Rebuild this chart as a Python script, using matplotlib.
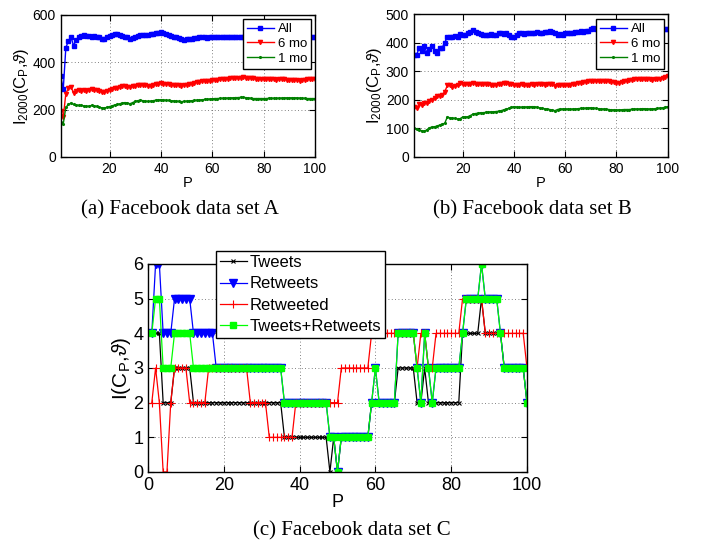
import matplotlib
matplotlib.use("Agg")
import matplotlib.pyplot as plt
import numpy as np

plt.rcParams['font.family'] = ['Liberation Sans', 'DejaVu Sans']
plt.rcParams['mathtext.fontset'] = 'custom'
plt.rcParams['mathtext.rm'] = 'Liberation Sans'
plt.rcParams['mathtext.it'] = 'Liberation Sans:italic'

# ---- data set A ----
p_ab = list(range(1, 101))
a_all = [342, 287, 462, 490, 507, 470, 495, 505, 512, 515,
         512, 510, 508, 510, 507, 505, 498, 500, 505, 510,
         515, 520, 518, 515, 512, 508, 505, 498, 502, 508,
         512, 514, 515, 515, 516, 518, 520, 522, 526, 528,
         525, 520, 515, 512, 508, 505, 502, 498, 496, 497,
         498, 500, 502, 504, 506, 505, 505, 504, 505, 506,
         507, 507, 506, 507, 508, 507, 508, 508, 507, 508,
         509, 508, 508, 507, 508, 509, 508, 507, 508, 508,
         507, 508, 509, 508, 508, 507, 508, 508, 509, 508,
         508, 507, 508, 508, 507, 508, 508, 507, 508, 507]
a_6mo = [195, 168, 268, 290, 295, 272, 280, 282, 280, 283,
         280, 282, 288, 285, 282, 278, 275, 276, 280, 282,
         286, 290, 292, 295, 298, 300, 297, 294, 298, 302,
         305, 306, 305, 303, 302, 300, 304, 308, 310, 312,
         310, 308, 307, 306, 305, 304, 303, 302, 304, 306,
         308, 310, 314, 316, 318, 320, 321, 322, 323, 325,
         326, 327, 328, 329, 330, 331, 332, 333, 334, 335,
         335, 336, 335, 334, 333, 332, 331, 330, 330, 330,
         329, 329, 328, 328, 327, 328, 329, 328, 327, 326,
         327, 326, 325, 322, 326, 327, 328, 329, 329, 330]
a_1mo = [150, 140, 210, 222, 228, 222, 220, 218, 218, 216,
         214, 215, 218, 216, 214, 210, 208, 207, 210, 213,
         216, 220, 222, 225, 228, 230, 228, 225, 230, 235,
         238, 240, 238, 236, 235, 236, 238, 240, 241, 242,
         241, 240, 239, 238, 237, 236, 235, 234, 235, 236,
         237, 238, 239, 240, 241, 242, 243, 244, 245, 246,
         247, 247, 248, 248, 249, 249, 250, 250, 251, 251,
         252, 252, 251, 250, 248, 247, 247, 247, 247, 247,
         247, 248, 248, 248, 248, 249, 249, 250, 250, 250,
         250, 250, 250, 249, 248, 248, 247, 247, 247, 247]

# ---- data set B ----
b_all = [358, 356, 382, 370, 387, 365, 378, 388, 372, 365,
         380, 382, 400, 420, 418, 420, 422, 420, 430, 428,
         428, 432, 436, 444, 438, 432, 430, 427, 425, 428,
         430, 426, 428, 432, 432, 430, 433, 428, 420, 418,
         428, 432, 432, 430, 432, 434, 435, 432, 438, 434,
         435, 438, 436, 440, 438, 432, 428, 430, 428, 432,
         434, 432, 435, 438, 436, 440, 438, 440, 442, 448,
         450, 448, 446, 448, 450, 450, 451, 450, 452, 450,
         451, 450, 449, 450, 451, 450, 452, 450, 449, 450,
         451, 450, 449, 450, 450, 448, 446, 448, 449, 448]
b_6mo = [175, 170, 185, 182, 190, 188, 195, 198, 208, 212,
         212, 218, 228, 250, 250, 245, 248, 250, 258, 256,
         255, 256, 254, 258, 256, 254, 256, 255, 254, 256,
         252, 250, 252, 255, 256, 258, 258, 255, 254, 252,
         252, 253, 254, 253, 252, 253, 254, 253, 254, 255,
         254, 253, 254, 255, 255, 248, 250, 252, 250, 250,
         252, 253, 255, 256, 258, 260, 262, 263, 265, 264,
         266, 267, 266, 264, 265, 266, 264, 262, 262, 260,
         260, 262, 264, 266, 268, 270, 272, 271, 272, 272,
         271, 272, 272, 270, 271, 272, 274, 276, 280, 283]
b_1mo = [100, 97, 95, 92, 90, 95, 102, 105, 106, 108,
         112, 115, 118, 140, 137, 136, 135, 133, 134, 140,
         140, 141, 145, 150, 152, 153, 155, 155, 156, 157,
         158, 158, 159, 160, 162, 165, 168, 170, 174, 176,
         175, 174, 174, 175, 175, 176, 176, 176, 174, 172,
         170, 169, 168, 166, 164, 162, 166, 168, 168, 168,
         168, 167, 168, 168, 169, 170, 170, 171, 172, 172,
         171, 170, 169, 168, 168, 167, 166, 165, 165, 164,
         165, 165, 166, 166, 166, 167, 168, 168, 168, 169,
         169, 168, 168, 168, 169, 170, 171, 172, 174, 176]

# ---- data set C ----
p_c = list(range(1, 101))
c_tweets = ([4] * 3 + [2] * 3 + [3] * 5 + [2] * 24 + [1] * 12 + [0, 1, 0] + [1] * 8
            + [2] * 7 + [3] * 5 + [2, 2, 3, 2] + [2] * 8 + [4] * 5 + [5] + [4] * 5
            + [3] * 6 + [2])
c_retweets = ([4, 6, 6] + [4] * 3 + [5] * 5 + [4] * 6 + [3] * 18 + [2] * 12 + [1, 1, 0] + [1] * 8
              + [2, 3] + [2] * 5 + [4] * 5 + [3, 2, 4, 3, 2] + [3] * 7 + [4] + [5] * 4 + [6]
              + [5] * 4 + [4] + [3] * 6 + [2])
c_retweeted = ([2, 3, 2, 0, 0, 2] + [3] * 4 + [2] * 5 + [3] * 11 + [2] * 5 + [1] * 7 + [2] * 12
               + [3] * 8 + [4] * 12 + [3, 4, 4, 3, 3] + [4] * 7 + [5] * 6 + [4] * 11 + [3])
c_both = ([4, 5, 5] + [3] * 3 + [4] * 5 + [3] * 24 + [2] * 12 + [1, 1, 0] + [1] * 8
          + [2, 3] + [2] * 5 + [4] * 5 + [3, 2, 4, 3, 2] + [3] * 7 + [4] + [5] * 4 + [6]
          + [5] * 4 + [4] + [3] * 6 + [2])

W, H = 702, 540
fig = plt.figure(figsize=(W / 100, H / 100), dpi=100)


def box(l, t, r, b):
    return [l / W, 1 - b / H, (r - l) / W, (b - t) / H]


def style(ax, fs):
    ax.tick_params(direction='in', top=True, right=True, labelsize=fs, length=4, width=0.8)
    ax.grid(True, linestyle=(0, (1, 3)), color='0.35', linewidth=0.6)
    for s in ax.spines.values():
        s.set_linewidth(1.0)


blue = (0, 0, 1)
red = (1, 0, 0)
dgreen = (0, 0.5, 0)

ylab_ab = r'I$_{\mathregular{2000}}$(C$_{\mathregular{P}}$,$\vartheta$)'

# panel A
ax1 = fig.add_axes(box(60.7, 15, 315, 157))
ax1.plot(p_ab, a_all, color=blue, marker='s', ms=3, lw=1, label='All')
ax1.plot(p_ab, a_6mo, color=red, marker='v', ms=3, lw=1, label='6 mo')
ax1.plot(p_ab, a_1mo, color=dgreen, marker='.', ms=2.5, lw=1, label='1 mo')
ax1.set_xlim(1, 100)
ax1.set_ylim(0, 600)
ax1.set_xticks([20, 40, 60, 80, 100])
ax1.set_yticks([0, 200, 400, 600])
style(ax1, 10)
ax1.set_xlabel('P', fontsize=10.5, labelpad=0)
ax1.set_ylabel(ylab_ab, fontsize=12, labelpad=1)
leg = ax1.legend(loc='upper right', bbox_to_anchor=(0.984, 0.972), borderaxespad=0,
                 fontsize=9.5, fancybox=False, edgecolor='k', framealpha=1,
                 handlelength=2.0, handletextpad=0.3, labelspacing=0.2, borderpad=0.3)
leg.get_frame().set_linewidth(1.0)

# panel B
ax2 = fig.add_axes(box(414, 14, 667.7, 157))
ax2.plot(p_ab, b_all, color=blue, marker='s', ms=3, lw=1, label='All')
ax2.plot(p_ab, b_6mo, color=red, marker='v', ms=3, lw=1, label='6 mo')
ax2.plot(p_ab, b_1mo, color=dgreen, marker='.', ms=2.5, lw=1, label='1 mo')
ax2.set_xlim(1, 100)
ax2.set_ylim(0, 500)
ax2.set_xticks([20, 40, 60, 80, 100])
ax2.set_yticks([0, 100, 200, 300, 400, 500])
style(ax2, 10)
ax2.set_xlabel('P', fontsize=10.5, labelpad=0)
ax2.set_ylabel(ylab_ab, fontsize=12, labelpad=1)
leg = ax2.legend(loc='upper right', bbox_to_anchor=(0.985, 0.965), borderaxespad=0,
                 fontsize=9.5, fancybox=False, edgecolor='k', framealpha=1,
                 handlelength=2.0, handletextpad=0.3, labelspacing=0.2, borderpad=0.3)
leg.get_frame().set_linewidth(1.0)

# panel C
ax3 = fig.add_axes(box(148, 264, 527, 472))
ax3.plot(p_c, c_tweets, color='k', marker='x', ms=3.5, lw=0.9, mew=0.8, label='Tweets')
ax3.plot(p_c, c_retweets, color=blue, marker='v', ms=5.5, lw=0.9, label='Retweets')
ax3.plot(p_c, c_retweeted, color=red, marker='+', ms=6, lw=0.9, mew=0.8, label='Retweeted')
ax3.plot(p_c, c_both, color=(0, 1, 0), marker='s', ms=5, lw=0.9, label='Tweets+Retweets')
ax3.set_xlim(0, 100)
ax3.set_ylim(0, 6)
ax3.set_xticks([0, 20, 40, 60, 80, 100])
ax3.set_yticks([0, 1, 2, 3, 4, 5, 6])
style(ax3, 13)
ax3.set_xlabel('P', fontsize=13, labelpad=0)
ax3.set_ylabel(r'I(C$_{\mathregular{P}}$,$\vartheta$)', fontsize=15, labelpad=0)
leg = ax3.legend(loc='upper left', bbox_to_anchor=(0.179, 1.0625), borderaxespad=0,
                 fontsize=12, fancybox=False, edgecolor='k', framealpha=1,
                 handlelength=1.6, handletextpad=0.15, labelspacing=0.38, borderpad=0.25)
leg.get_frame().set_linewidth(1.0)

# captions
cap = dict(ha='center', va='center', fontsize=15, family='Liberation Serif')
fig.text(180 / W, 1 - 210 / H, '(a) Facebook data set A', **cap)
fig.text(532 / W, 1 - 210 / H, '(b) Facebook data set B', **cap)
fig.text(352 / W, 1 - 531 / H, '(c) Facebook data set C', **cap)

fig.savefig('out.png', dpi=100)
